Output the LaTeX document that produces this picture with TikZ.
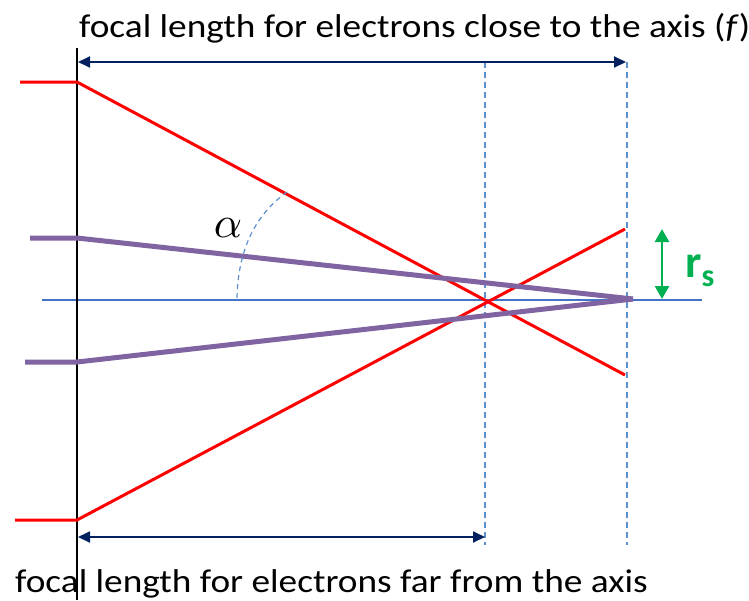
\documentclass[tikz,border=0pt]{standalone}
\usepackage{fontspec}
\setmainfont{Carlito}
\newfontfamily\lblfont[FakeStretch=1.13]{Carlito}
\usetikzlibrary{arrows.meta}
\definecolor{ray}{HTML}{FF0000}
\definecolor{para}{HTML}{8064A2}
\definecolor{axisblue}{HTML}{4472C4}
\definecolor{guideblue}{HTML}{5B8FD0}
\definecolor{navy}{HTML}{002060}
\definecolor{grn}{HTML}{00B050}
\tikzset{
  redray/.style={ray, line width=3pt},
  purpray/.style={para, line width=5pt},
  guide/.style={guideblue, line width=1.3pt, dash pattern=on 6pt off 4pt},
  dim/.style={navy, line width=1.8pt, {Triangle[length=12pt,width=11pt]}-{Triangle[length=12pt,width=11pt]}},
  lbl/.style={font=\lblfont\fontsize{33}{36}\selectfont, inner sep=0pt}
}
\begin{document}
\begin{tikzpicture}[x=1pt,y=-1pt]
\useasboundingbox (0,0) rectangle (749,600);
% coordinates
\coordinate (lensT) at (77,48);
\coordinate (lensB) at (77,600);
\coordinate (axL) at (42,300);
\coordinate (axR) at (702,300);
\coordinate (F1) at (485,300);
\coordinate (F2) at (633,299);
% guides
\draw[guide] (485,62) -- (485,545);
\draw[guide] (627,62) -- (627,545);
% axis
\draw[axisblue, line width=1.5pt] (axL) -- (axR);
% lens
\draw[black, line width=2pt] (lensT) -- (lensB);
% red rays
\draw[redray] (20,82) -- (77,82) -- (625,375);
\draw[redray] (15,520) -- (77,520) -- (625,229);
% purple rays
\draw[purpray] (30,238) -- (77,238) -- (F2);
\draw[purpray] (25,362) -- (77,362) -- (F2);
% angle arc
\draw[guide, line width=1.2pt, dash pattern=on 5pt off 4pt] (237,298) .. controls (238,250) and (255,215) .. (287,192);
\node[inner sep=0pt, scale=4.4] (alpha) at (228,228) {$\alpha$};
% dimension arrows
\coordinate (d1a) at (78,62);
\coordinate (d1b) at (626,62);
\draw[dim] (d1a) -- (d1b);
\coordinate (d2a) at (78,537);
\coordinate (d2b) at (485,537);
\draw[dim] (d2a) -- (d2b);
% green arrow
\coordinate (g1) at (662,229);
\coordinate (g2) at (662,299);
\draw[grn, line width=2.5pt, {Triangle[length=13pt,width=14pt]}-{Triangle[length=13pt,width=14pt]}] (g1) -- (g2);
\node[anchor=base west, inner sep=0pt, text=grn, font=\bfseries] (rs) at (685,277) {\fontsize{46}{48}\selectfont r\raisebox{-9pt}{\fontsize{32}{34}\selectfont s}};
% texts
\node[lbl, anchor=base west] (top) at (79,37) {focal length for electrons close to the axis (\textit{f})};
\node[lbl, anchor=base west] (bot) at (15,592) {focal length for electrons far from the axis};
\end{tikzpicture}
\end{document}
